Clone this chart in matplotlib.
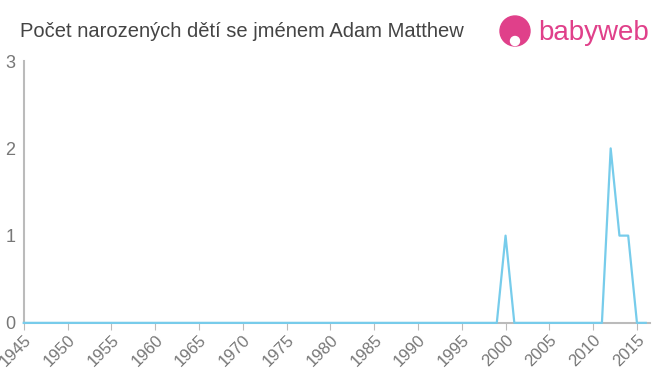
import numpy as np
import matplotlib.pyplot as plt
from matplotlib.patches import Ellipse

plt.rcParams['font.family'] = ['Liberation Sans', 'DejaVu Sans']

# --- Data ---
years = list(range(1945, 2017))
counts = [0] * len(years)
nonzero = {2000: 1, 2012: 2, 2013: 1, 2014: 1}
for y, c in nonzero.items():
    counts[years.index(y)] = c

xticks = list(range(1945, 2016, 5))
yticks = [0, 1, 2, 3]
title = "Počet narozených dětí se jménem Adam Matthew"

# --- Plot ---
fig = plt.figure(figsize=(6.6, 3.75), dpi=100)
ax = fig.add_axes([0.036, 0.139, 0.949, 0.698])

ax.plot(years, counts, color="#77cceb", linewidth=1.6, zorder=3, clip_on=False)

ax.set_xlim(1945, 2016.5)
ax.set_ylim(0, 3)
ax.set_xticks(xticks)
ax.set_xticklabels([str(x) for x in xticks], rotation=45, ha="right",
                   rotation_mode="anchor", fontsize=12, color="#777777")
ax.set_yticks(yticks)
ax.set_yticklabels([str(v) for v in yticks], fontsize=13, color="#777777")
ax.tick_params(axis="x", length=5, color="#bbbbbb", pad=2)
ax.tick_params(axis="y", length=0, pad=6)

for side in ["top", "right"]:
    ax.spines[side].set_visible(False)
for side in ["left", "bottom"]:
    ax.spines[side].set_color("#bbbbbb")
    ax.spines[side].set_linewidth(1.5)

fig.text(0.03, 0.915, title, fontsize=14.5, color="#444444", va="center")

# --- Logo ---
pink = "#e0408a"
fig.patches.append(Ellipse((515 / 660, 1 - 31 / 375), 30 / 660, 30 / 375,
                           transform=fig.transFigure, color=pink, figure=fig))
fig.patches.append(Ellipse((515 / 660, 1 - 41 / 375), 9 / 660, 9 / 375,
                           transform=fig.transFigure, color="white", figure=fig))
fig.text(538 / 660, 0.912, "babyweb", fontsize=20, color=pink, va="center")

fig.savefig("out.png", dpi=100)
